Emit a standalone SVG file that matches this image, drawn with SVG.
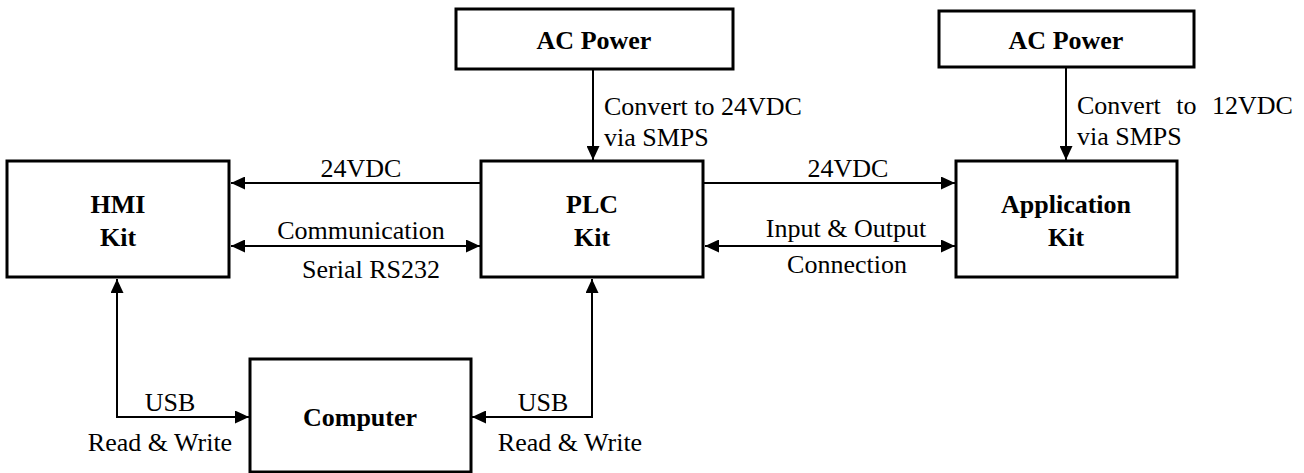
<svg xmlns="http://www.w3.org/2000/svg" width="1304" height="473" viewBox="0 0 1304 473">
<defs>
<style>
.box{fill:#fff;stroke:#000;stroke-width:3}
text{font-family:'Liberation Serif','DejaVu Serif',serif;font-size:26px;fill:#000}
.b{font-weight:bold;text-anchor:middle}
.m{text-anchor:middle}
.c{fill:none;stroke:#000;stroke-width:2}
</style>
<marker id="ah" markerUnits="userSpaceOnUse" markerWidth="14" markerHeight="13" refX="14" refY="6.5" orient="auto-start-reverse" viewBox="0 0 14 13">
<path d="M0,0 L14,6.5 L0,13 z" fill="#000"/>
</marker>
</defs>
<rect width="1304" height="473" fill="#fff"/>
<g id="connectors" font-family="Liberation Serif, DejaVu Serif, serif">
<line class="c" x1="481" y1="183" x2="231" y2="183" marker-end="url(#ah)"/>
<line class="c" x1="231" y1="246" x2="480" y2="246" marker-start="url(#ah)" marker-end="url(#ah)"/>
<line class="c" x1="703" y1="183" x2="955" y2="183" marker-end="url(#ah)"/>
<line class="c" x1="705" y1="246" x2="955" y2="246" marker-start="url(#ah)" marker-end="url(#ah)"/>
<line class="c" x1="593" y1="69" x2="593" y2="160" marker-end="url(#ah)"/>
<line class="c" x1="1066" y1="67" x2="1066" y2="160" marker-end="url(#ah)"/>
<path class="c" d="M117,279 V417 H249" marker-start="url(#ah)" marker-end="url(#ah)"/>
<path class="c" d="M592,279 V417 H472" marker-start="url(#ah)" marker-end="url(#ah)"/>
<text class="m" x="361" y="177">24VDC</text>
<text class="m" x="361" y="239">Communication</text>
<text class="m" x="371" y="278">Serial RS232</text>
<text class="m" x="848" y="177">24VDC</text>
<text class="m" x="846" y="237">Input &amp; Output</text>
<text class="m" x="847" y="273">Connection</text>
<text x="604" y="115">Convert to 24VDC</text>
<text x="604" y="146">via SMPS</text>
<text x="1077" y="114" word-spacing="9">Convert to 12VDC</text>
<text x="1077" y="145">via SMPS</text>
<text class="m" x="170" y="411">USB</text>
<text class="m" x="160" y="451">Read &amp; Write</text>
<text class="m" x="543" y="411">USB</text>
<text class="m" x="570" y="451">Read &amp; Write</text>
</g>
<g id="ac-power-1">
<rect class="box" x="456" y="9" width="277" height="60"/>
<text class="b" x="594" y="49">AC Power</text>
</g>
<g id="ac-power-2">
<rect class="box" x="939" y="11" width="255" height="56"/>
<text class="b" x="1066" y="49">AC Power</text>
</g>
<g id="hmi-kit">
<rect class="box" x="7" y="161" width="222" height="116"/>
<text class="b" x="118" y="213">HMI</text>
<text class="b" x="118" y="246">Kit</text>
</g>
<g id="plc-kit">
<rect class="box" x="481" y="161" width="222" height="116"/>
<text class="b" x="592" y="213">PLC</text>
<text class="b" x="592" y="246">Kit</text>
</g>
<g id="application-kit">
<rect class="box" x="956" y="161" width="221" height="116"/>
<text class="b" x="1066" y="213">Application</text>
<text class="b" x="1066" y="246">Kit</text>
</g>
<g id="computer">
<rect class="box" x="250" y="359" width="221" height="113"/>
<text class="b" x="360" y="426">Computer</text>
</g>
</svg>
